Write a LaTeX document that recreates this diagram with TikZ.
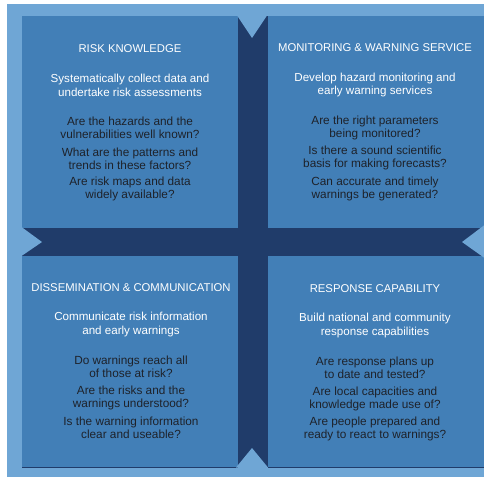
\documentclass[tikz,border=0pt]{standalone}
\usepackage{fontspec}
\setmainfont{Liberation Sans}
\definecolor{rimblue}{RGB}{111,166,213}
\definecolor{panelblue}{RGB}{66,127,183}
\definecolor{crossnavy}{RGB}{32,60,106}
\definecolor{asktext}{RGB}{30,34,42}
\begin{document}
\begin{tikzpicture}[x=1pt,y=-1pt,
  panel/.style={fill=panelblue, draw=none, anchor=north west, inner sep=0pt},
  heading/.style={text=white, inner sep=0pt, font=\fontsize{11.3}{13}\selectfont},
  aim/.style={text=white, align=center, inner sep=0pt, font=\fontsize{11.6}{13.5}\selectfont},
  ask/.style={text=asktext, align=center, inner sep=0pt, font=\fontsize{11.8}{13}\selectfont},
  notch/.style={fill=rimblue, draw=none}]

% outer frame and page extent
\useasboundingbox (0,0) rectangle (484,477);
\fill[white] (0,0) rectangle (484,477);
\fill[rimblue] (7,4) rectangle (484,477);

% navy cross behind the four panels
\fill[crossnavy] (22,16) rectangle (484,467);

% the four panels
\node[panel, minimum width=216pt, minimum height=212pt] (rk) at (22,16) {};
\node[panel, minimum width=216pt, minimum height=212pt] (mw) at (268,16) {};
\node[panel, minimum width=216pt, minimum height=211pt] (dc) at (22,256) {};
\node[panel, minimum width=216pt, minimum height=211pt] (rc) at (268,256) {};
\draw[crossnavy, line width=0.8pt] (dc.south west) -- (dc.south east);
\draw[crossnavy, line width=0.8pt] (rc.south west) -- (rc.south east);

% arrow notches cut into the ends of the cross
\fill[notch] (236,14) -- (252,38) -- (268,14) -- cycle;
\fill[notch] (236,467.5) -- (252,448) -- (268,467.5) -- cycle;
\fill[notch] (21.5,227) -- (42,242) -- (21.5,256) -- cycle;
\fill[notch] (484.5,225) -- (462,242) -- (484.5,258) -- cycle;

% risk knowledge
\node[heading] (rkh) at (130,49) {RISK KNOWLEDGE};
\node[aim] (rka) at (130,85.5) {Systematically collect data and\\undertake risk assessments};
\node[ask] (rkq1) at (130,127.5) {Are the hazards and the\\vulnerabilities well known?};
\node[ask] (rkq2) at (130,158.5) {What are the patterns and\\trends in these factors?};
\node[ask] (rkq3) at (130,189) {Are risk maps and data\\widely available?};

% monitoring and warning service
\node[heading] (mwh) at (375,48) {MONITORING \& WARNING SERVICE};
\node[aim] (mwa) at (375,85) {Develop hazard monitoring and\\early warning services};
\node[ask] (mwq1) at (375,127.5) {Are the right parameters\\being monitored?};
\node[ask] (mwq2) at (375,158) {Is there a sound scientific\\basis for making forecasts?};
\node[ask] (mwq3) at (375,189) {Can accurate and timely\\warnings be generated?};

% dissemination and communication
\node[heading] (dch) at (131,288) {DISSEMINATION \& COMMUNICATION};
\node[aim] (dca) at (131,324.5) {Communicate risk information\\and early warnings};
\node[ask] (dcq1) at (131,367) {Do warnings reach all\\of those at risk?};
\node[ask] (dcq2) at (131,397.5) {Are the risks and the\\warnings understood?};
\node[ask] (dcq3) at (131,427.5) {Is the warning information\\clear and useable?};

% response capability
\node[heading] (rch) at (375,289) {RESPONSE CAPABILITY};
\node[aim] (rca) at (375,325.5) {Build national and community\\response capabilities};
\node[ask] (rcq1) at (375,367.5) {Are response plans up\\to date and tested?};
\node[ask] (rcq2) at (375,398.5) {Are local capacities and\\knowledge made use of?};
\node[ask] (rcq3) at (375,428.5) {Are people prepared and\\ready to react to warnings?};
\end{tikzpicture}
\end{document}
